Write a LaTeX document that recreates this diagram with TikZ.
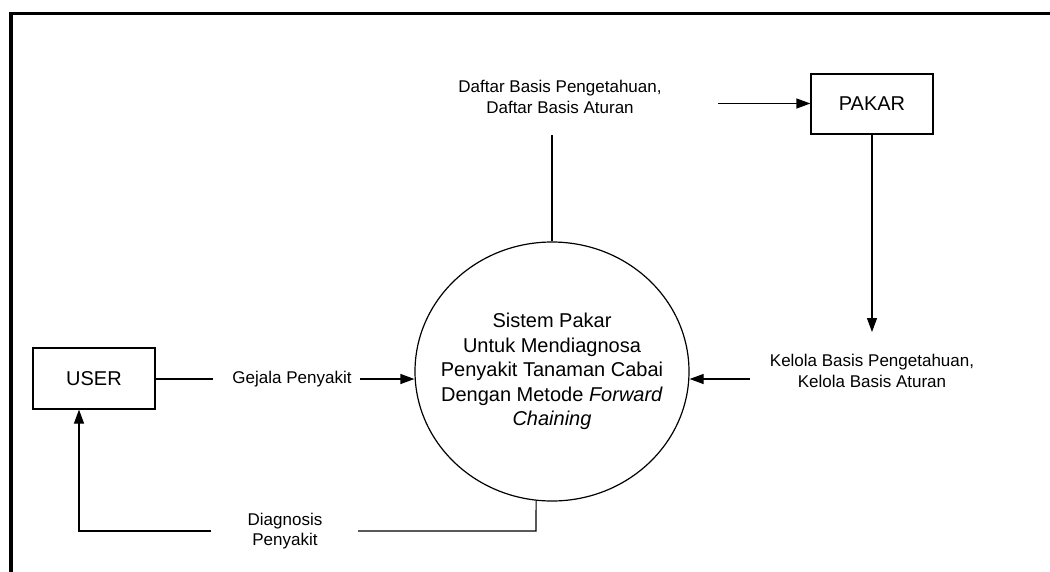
\documentclass[tikz,border=0pt]{standalone}
\usepackage{fontspec}
\setmainfont{Liberation Sans}
\usetikzlibrary{arrows.meta,shapes.geometric}
\tikzset{
  flow/.style={line width=1.2pt},
  arr/.style={flow,-{Triangle[length=14pt,width=10pt]}},
  ent/.style={draw,line width=1.2pt,minimum width=122pt,minimum height=61pt,inner sep=0pt,font=\fontsize{20}{24}\selectfont},
  lbl/.style={align=center,inner sep=0pt,font=\fontsize{17}{20.5}\selectfont},
  frame/.style={line width=3.5pt}
}
\begin{document}
\begin{tikzpicture}[x=1pt,y=-1pt]
\useasboundingbox (0,0) rectangle (1050,571);
% frame
\coordinate (f1) at (11,575);
\coordinate (f2) at (11,13.7);
\coordinate (f3) at (1055,13.7);
\draw[frame] (f1) -- (f2) -- (f3);
% nodes
\node[ent] (user) at (94,378.5) {USER};
\node[ent,minimum height=60pt] (pakar) at (872,104) {PAKAR};
\node[draw,ellipse,line width=1.2pt,minimum width=274pt,minimum height=259pt,inner sep=0pt] (proc) at (552,371.5) {};
\node[align=center,inner sep=0pt,font=\fontsize{20}{24.5}\selectfont] (proctext) at (552,371.5)
  {Sistem Pakar\\Untuk Mendiagnosa\\Penyakit Tanaman Cabai\\Dengan Metode \textit{Forward}\\\textit{Chaining}};
\node[lbl] (daftar) at (560,97) {Daftar Basis Pengetahuan,\\Daftar Basis Aturan};
\node[lbl] (kelola) at (872,371) {Kelola Basis Pengetahuan,\\Kelola Basis Aturan};
\node[lbl] (gejala) at (292,379) {Gejala Penyakit};
\node[lbl] (diag) at (285,531) {Diagnosis\\Penyakit};
% helper coordinates
\coordinate (g1) at (213,379);
\coordinate (g2) at (360,379);
\coordinate (d0) at (552,135);
\coordinate (d1) at (718,103.5);
\coordinate (k0) at (872,332);
\coordinate (k1) at (750,379);
\coordinate (b0) at (536,531);
\coordinate (b1) at (358,531);
\coordinate (b2) at (211,531);
\coordinate (b3) at (79,531);
% connectors
\draw[flow] (user.east |- g1) -- (g1);
\draw[arr] (g2) -- (proc.west |- g2);
\draw[flow] (d0) -- (proc.north);
\draw[arr] (d1) -- (pakar.west |- d1);
\draw[arr] (pakar.south) -- (k0);
\draw[arr] (k1) -- (proc.east |- k1);
\draw[flow] (proc.-97) -- (b0) -- (b1);
\draw[arr] (b2) -- (b3) -- (user.south -| b3);
\end{tikzpicture}
\end{document}
